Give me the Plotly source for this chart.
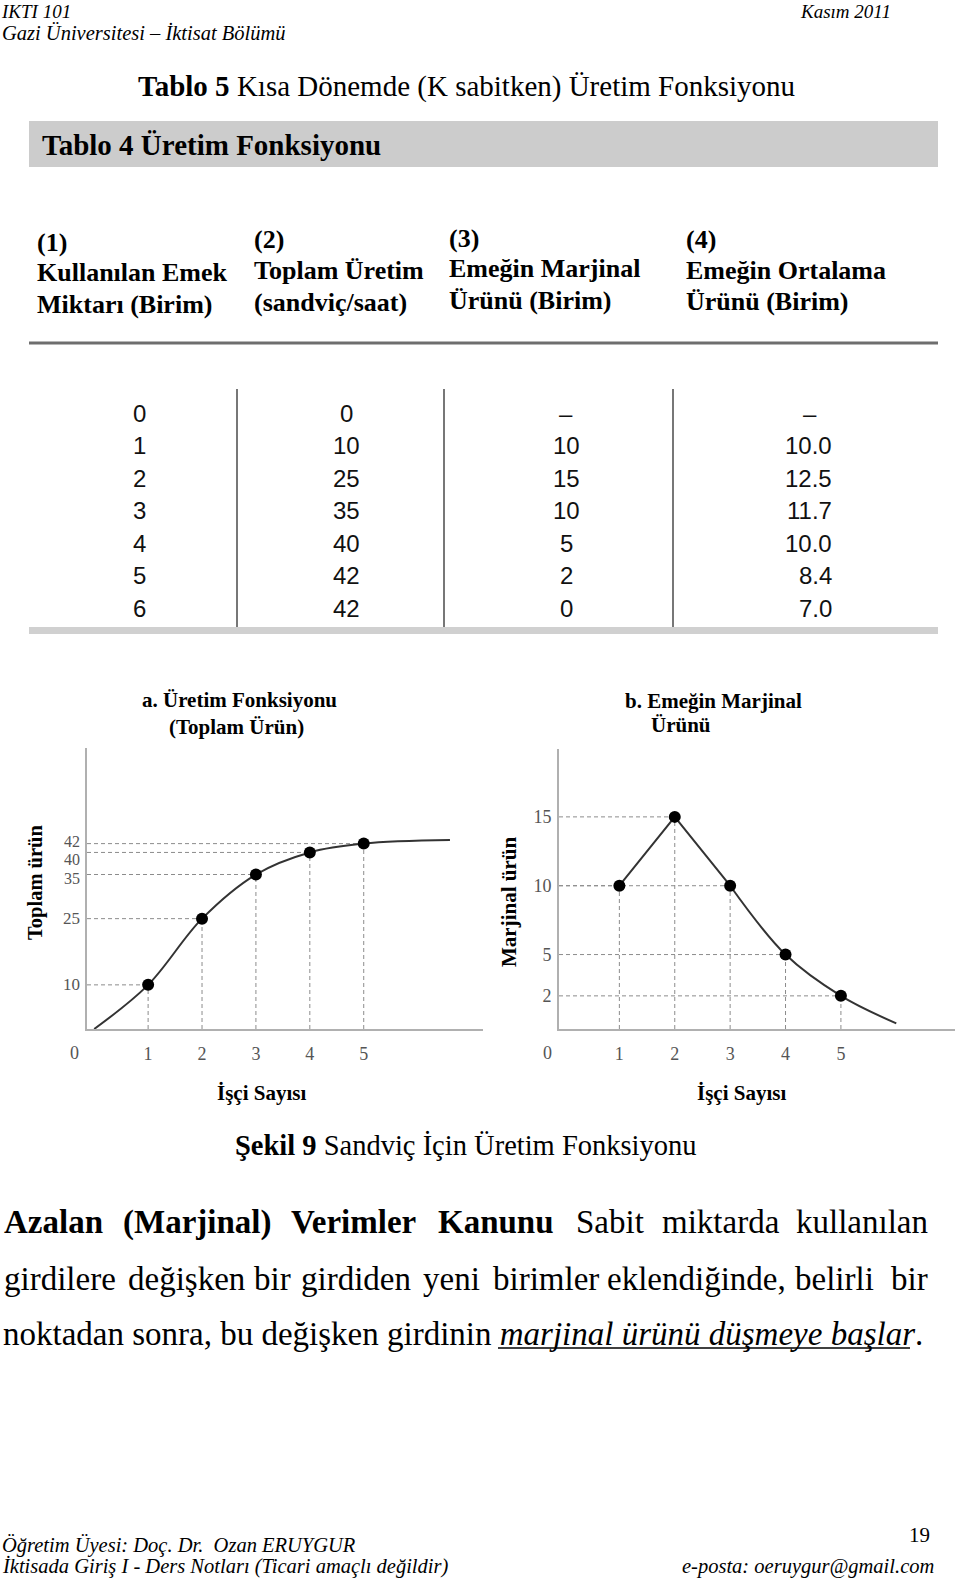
import plotly.graph_objects as go

W, H = 960, 1580


def X(px):
    return px / W


def Y(py):
    return 1 - py / H


# ---------------- data ----------------
workers = [0, 1, 2, 3, 4, 5, 6]
total_product = [0, 10, 25, 35, 40, 42, 42]
marginal_product = [None, 10, 15, 10, 5, 2, 0]
average_product = [None, 10.0, 12.5, 11.7, 10.0, 8.4, 7.0]

# curve of panel a as drawn
tp_curve_x = [0, 1, 2, 3, 4, 5, 6.6]
tp_curve_y = [0, 10, 25, 35, 40, 42, 42.8]

point_workers = [1, 2, 3, 4, 5]
tp_points = [10, 25, 35, 40, 42]
mp_points = [10, 15, 10, 5, 2]

mp_line_x = [1, 2, 3]
mp_line_y = [10, 15, 10]
mp_curve_x = [3, 4, 5, 6]
mp_curve_y = [10, 5, 2, 0]

x_ticks = [1, 2, 3, 4, 5]
tp_ticks = [10, 25, 35, 40, 42]
mp_ticks = [2, 5, 10, 15]

col_headers = [
    ["(1)", "Kullanılan Emek", "Miktarı (Birim)"],
    ["(2)", "Toplam Üretim", "(sandviç/saat)"],
    ["(3)", "Emeğin Marjinal", "Ürünü (Birim)"],
    ["(4)", "Emeğin Ortalama", "Ürünü (Birim)"],
]

SERIF = "Liberation Serif, Times New Roman, serif"
SANSN = "Liberation Sans Narrow, Arial Narrow, Liberation Sans, Arial, sans-serif"

# axis ranges (pixel calibrated)
XL = [-0.134, 7.213]
YL = [0, 63.66]
XR = [-0.09, 7.06]
YR = [-0.407, 19.93]

fig = go.Figure()

GUIDE = dict(color="#8c8c8c", width=1, dash="4px,3px")
CURVE = dict(color="#333333", width=2)

# ---- panel a ----
gx, gy = [], []
for xv, yv in zip(point_workers, tp_points):
    gx += [XL[0], xv, None, xv, xv, None]
    gy += [yv, yv, None, YL[0], yv, None]
fig.add_trace(go.Scatter(x=gx, y=gy, mode="lines", line=GUIDE, xaxis="x", yaxis="y",
                         hoverinfo="skip", showlegend=False))
fig.add_trace(go.Scatter(x=tp_curve_x, y=tp_curve_y, mode="lines",
                         line=dict(shape="spline", **CURVE), xaxis="x", yaxis="y", showlegend=False))
fig.add_trace(go.Scatter(x=point_workers, y=tp_points, mode="markers",
                         marker=dict(color="black", size=12), xaxis="x", yaxis="y", showlegend=False))

# ---- panel b ----
gx, gy = [], []
for xv, yv in zip(point_workers, mp_points):
    gx += [XR[0], xv, None, xv, xv, None]
    gy += [yv, yv, None, YR[0], yv, None]
fig.add_trace(go.Scatter(x=gx, y=gy, mode="lines", line=GUIDE, xaxis="x2", yaxis="y2",
                         hoverinfo="skip", showlegend=False))
fig.add_trace(go.Scatter(x=mp_line_x, y=mp_line_y, mode="lines", line=CURVE,
                         xaxis="x2", yaxis="y2", showlegend=False))
fig.add_trace(go.Scatter(x=mp_curve_x, y=mp_curve_y, mode="lines",
                         line=dict(shape="spline", **CURVE), xaxis="x2", yaxis="y2", showlegend=False))
fig.add_trace(go.Scatter(x=point_workers, y=mp_points, mode="markers",
                         marker=dict(color="black", size=12), xaxis="x2", yaxis="y2", showlegend=False))

TICKFONT = dict(family=SERIF, size=18, color="#555555")
AX = dict(showline=True, linecolor="#b0b0b0", linewidth=2, showgrid=False, zeroline=False,
          ticks="", tickfont=TICKFONT, fixedrange=True)

fig.update_layout(
    width=W, height=H,
    margin=dict(l=0, r=0, t=0, b=0),
    paper_bgcolor="white", plot_bgcolor="white",
    showlegend=False,
    xaxis=dict(domain=[X(87), X(483)], range=XL, tickvals=x_ticks, anchor="y",
               ticklabelstandoff=7, **AX),
    yaxis=dict(domain=[Y(1029), Y(748)], range=YL, tickvals=tp_ticks, anchor="x",
               showticklabels=False, **AX),
    xaxis2=dict(domain=[X(559), X(955)], range=XR, tickvals=x_ticks, anchor="y2",
                ticklabelstandoff=7, **AX),
    yaxis2=dict(domain=[Y(1029), Y(749)], range=YR, tickvals=mp_ticks, anchor="x2",
                ticklabelstandoff=2, **AX),
)

# panel a y tick labels placed on the y scale (crowded labels are nudged apart as in the original)
tp_label_nudge = [0, 0, -4, -7.5, 2]
tp_label_size = [17, 17, 16, 16, 16]
for v, dy, fs in zip(tp_ticks, tp_label_nudge, tp_label_size):
    fig.add_annotation(x=X(81), xref="paper", y=v, yref="y", text=str(v), showarrow=False,
                       xanchor="right", yanchor="middle", yshift=dy, borderpad=0,
                       font=dict(family=SERIF, size=fs, color="#555555"))


def txt(x, y, s, size, anchor="left", color="#000000", family=SERIF, angle=0, yanchor="middle", pad=1):
    fig.add_annotation(x=X(x), y=Y(y), xref="paper", yref="paper", text=s, showarrow=False,
                       xanchor=anchor, yanchor=yanchor, textangle=angle, borderpad=pad,
                       font=dict(family=family, size=size, color=color))


# ---------------- page header ----------------
txt(0, 0, "<i>IKTI 101</i>", 19, yanchor="top", pad=0)
txt(892, 0, "<i>Kasım 2011</i>", 19, anchor="right", yanchor="top", pad=0)
txt(0, 33, "<i>Gazi Üniversitesi – İktisat Bölümü</i>", 20.5)

txt(466, 87, "<b>Tablo 5</b> Kısa Dönemde (K sabitken) Üretim Fonksiyonu", 29, anchor="center")

# ---------------- table ----------------
shapes = []
shapes.append(dict(type="rect", xref="paper", yref="paper", x0=X(29), x1=X(938), y0=Y(167), y1=Y(121),
                   fillcolor="#cccccc", line=dict(width=0)))
shapes.append(dict(type="line", xref="paper", yref="paper", x0=X(29), x1=X(938), y0=Y(343), y1=Y(343),
                   line=dict(color="#6e6e6e", width=3)))
for vx in [237, 444, 673]:
    shapes.append(dict(type="line", xref="paper", yref="paper", x0=X(vx), x1=X(vx), y0=Y(389), y1=Y(631),
                       line=dict(color="#4a4a4a", width=1.5)))
shapes.append(dict(type="rect", xref="paper", yref="paper", x0=X(29), x1=X(938), y0=Y(634), y1=Y(627),
                   fillcolor="#d0d0d0", line=dict(width=0)))
# underline of italic phrase
shapes.append(dict(type="line", xref="paper", yref="paper", x0=X(498), x1=X(910), y0=Y(1348), y1=Y(1348),
                   line=dict(color="#000000", width=1.5)))
fig.update_layout(shapes=shapes)

txt(40, 145, "<b>Tablo 4 Üretim Fonksiyonu</b>", 29)

hdr_x = [35, 252, 447, 684]
hdr_y = [[242, 272, 304], [239, 270, 302], [238, 268, 300], [239, 270, 301]]
for cx, ys, lines in zip(hdr_x, hdr_y, col_headers):
    for yy, line in zip(ys, lines):
        txt(cx, yy, "<b>" + line + "</b>", 26)

col1 = [str(v) for v in workers]
col2 = [str(v) for v in total_product]
col3 = ["–" if v is None else str(v) for v in marginal_product]
col4 = ["–" if v is None else f"{v:.1f}" for v in average_product]
for i in range(len(workers)):
    ry = 413 + 32.6 * i
    txt(139, ry, col1[i], 24, anchor="center", color="#111111", family=SANSN)
    txt(346, ry, col2[i], 24, anchor="center", color="#111111", family=SANSN)
    txt(566, ry, col3[i], 24, anchor="center", color="#111111", family=SANSN)
    if col4[i] == "–":
        txt(810, ry, col4[i], 24, anchor="center", color="#111111", family=SANSN)
    else:
        txt(834, ry, col4[i], 24, anchor="right", color="#111111", family=SANSN)

# ---------------- chart texts ----------------
txt(239, 700, "<b>a. Üretim Fonksiyonu</b>", 21, anchor="center")
txt(236, 727, "<b>(Toplam Ürün)</b>", 21, anchor="center")
txt(713, 701, "<b>b. Emeğin Marjinal</b>", 21, anchor="center")
txt(681, 725, "<b>Ürünü</b>", 21, anchor="center")

txt(261, 1093, "<b>İşçi Sayısı</b>", 21, anchor="center")
txt(741, 1093, "<b>İşçi Sayısı</b>", 21, anchor="center")
txt(35, 883, "<b>Toplam ürün</b>", 20.5, anchor="center", angle=-90)
txt(509, 902, "<b>Marjinal ürün</b>", 21, anchor="center", angle=-90)

txt(74, 1053, "0", 18, anchor="center", color="#555555")
txt(547, 1053, "0", 18, anchor="center", color="#555555")

txt(466, 1145, "<b>Şekil 9</b> Sandviç İçin Üretim Fonksiyonu", 28.5, anchor="center")

# ---------------- paragraph (justified: words placed at their measured starts) ----------------
line1 = [("<b>Azalan</b>", 2), ("<b>(Marjinal)</b>", 121), ("<b>Verimler</b>", 289),
         ("<b>Kanunu</b>", 436), ("Sabit", 574), ("miktarda", 660)]
line2 = [("girdilere", 2), ("değişken", 126), ("bir", 252), ("girdiden", 299), ("yeni", 421),
         ("birimler", 491), ("eklendiğinde,", 605), ("belirli", 793)]
for w, lx in line1:
    txt(lx, 1222, w, 33)
txt(930, 1222, "kullanılan", 33, anchor="right")
for w, lx in line2:
    txt(lx, 1279, w, 33)
txt(930, 1279, "bir", 33, anchor="right")
txt(1, 1334, "noktadan sonra, bu değişken girdinin <i>marjinal ürünü düşmeye başlar</i>.", 33)

# ---------------- footer ----------------
txt(0, 1545, "<i>Öğretim Üyesi: Doç. Dr.\u00a0 Ozan ERUYGUR</i>", 20.5)
txt(0, 1566, "<i>İktisada Giriş I - Ders Notları (Ticari amaçlı değildir)</i>", 20.5)
txt(932, 1535, "19", 21, anchor="right")
txt(936, 1566, "<i>e-posta: oeruygur@gmail.com</i>", 20.5, anchor="right")

fig.write_html("out.html")
